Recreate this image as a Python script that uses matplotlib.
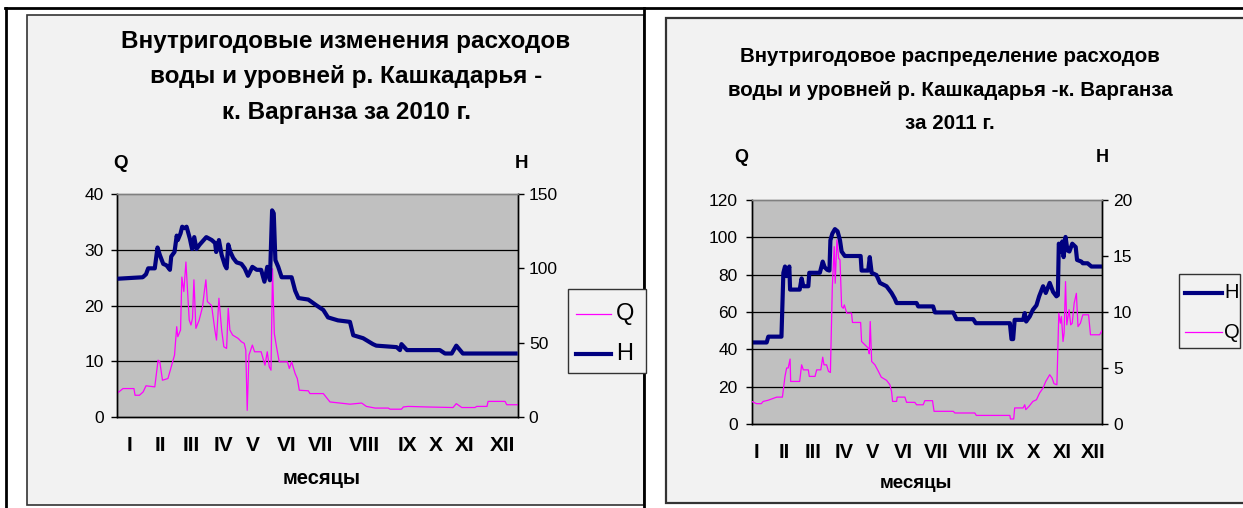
import matplotlib
matplotlib.use('Agg')
import matplotlib.pyplot as plt
from matplotlib.lines import Line2D
from matplotlib.patches import Rectangle

W, H = 1243, 508
FONT = ['Liberation Sans', 'DejaVu Sans']
plt.rcParams['font.family'] = FONT

# ---------------- data ----------------
months = ['I', 'II', 'III', 'IV', 'V', 'VI', 'VII', 'VIII', 'IX', 'X', 'XI', 'XII']
month_pos_2010 = [11.4, 38.7, 67, 97, 123, 154.5, 185.5, 225.5, 264, 290, 316.7, 351]
month_pos_2011 = [4.5, 33.6, 63.9, 96, 126, 157.6, 192, 230.6, 264, 294, 324, 355.6]

# 2010: discharge Q (m3/s) by day of year
q2010_day = [0, 5, 15, 16, 20, 23.4, 26, 34, 37, 38.6, 41, 46, 49, 52, 54, 55, 57.5, 58.7, 60.5, 62.4,
             65.4, 67, 68.4, 69.7, 71.5, 74.5, 77.6, 79, 80.6, 82, 85.8, 88.8, 90.3, 92.5, 95, 97, 99.5,
             101, 102.5, 105, 110, 113, 115.6, 117, 118.3, 119.9, 123, 125, 131, 134.5, 136.6, 138.4,
             140, 141.4, 143, 145, 147.5, 155, 156.7, 158.8, 162, 164, 165.8, 174, 175.5, 187.7, 193.8,
             203, 212, 222.7, 227, 235, 247, 248.5, 259, 260.7, 265, 282, 306, 309, 314, 326, 327.6,
             337, 338, 353.5, 355, 365]
q2010 = [4.3, 5.1, 5.1, 3.9, 3.9, 4.5, 5.6, 5.4, 10.2, 9.9, 6.6, 6.9, 9.0, 11.1, 16.2, 14.4, 15.6, 25.1,
         22.5, 27.8, 17.4, 16.5, 17.7, 24.6, 15.9, 17.4, 19.8, 22.2, 24.6, 20.7, 20.0, 15.6, 13.8, 21.3,
         15.6, 12.6, 12.3, 19.5, 15.6, 14.7, 14.1, 13.5, 13.2, 12.0, 1.2, 11.1, 12.9, 11.7, 11.7, 9.3,
         11.7, 9.0, 8.4, 26.6, 15.0, 12.6, 9.9, 9.9, 8.7, 9.9, 7.8, 6.9, 4.8, 4.7, 4.2, 4.2, 2.7, 2.5,
         2.3, 2.5, 1.9, 1.6, 1.6, 1.4, 1.4, 1.8, 1.9, 1.8, 1.7, 2.4, 1.7, 1.7, 1.9, 1.9, 2.8, 2.8, 2.2, 2.2]

# 2010: water level H (cm)
h2010_day = [0, 23, 26, 28, 34, 36.5, 38.6, 41.7, 44.7, 47.8, 49, 52, 54, 55, 57.5, 59, 61, 63, 66, 68,
             70, 72, 75, 81, 86, 89, 90, 92.5, 95, 98, 99.5, 101, 103, 105.5, 108.6, 113, 116, 119, 123,
             127, 131, 134, 136.6, 139, 141, 142.5, 144, 146.6, 149.7, 158.8, 162, 165, 174, 181.6,
             187.7, 192, 201, 212, 215, 224, 233, 236, 254.6, 257.6, 259, 264, 294, 298.7, 304.8, 309,
             315, 365]
h2010 = [93, 94, 96, 100, 100, 114, 109, 103, 102, 99, 108, 111, 122, 119, 123.5, 128, 127, 128, 120,
         113, 121, 113, 116, 121, 119, 117, 111, 119, 109, 102, 100, 116, 111, 107, 104, 103, 100, 95,
         101, 99, 99, 91, 101, 92, 139, 137, 105.5, 101, 94, 94, 85, 80, 79, 75, 72, 67, 65, 64, 55, 53,
         49, 48, 47, 45, 49, 45, 45, 42.7, 42.7, 48, 42.7, 42.7]

# 2011: discharge Q
q2011_day = [0, 5, 10, 12, 17, 26, 32, 34.7, 36.4, 38, 40, 40.6, 50, 52, 53.8, 59, 60, 66, 67.7, 72,
             74, 75.3, 78, 80, 82, 84, 86, 87, 88.8, 90.6, 92, 93.7, 95.4, 96.5, 99, 104, 105, 113.5,
             114.5, 118, 121.4, 122.5, 123.5, 125, 128.4, 132, 135, 140.5, 144, 145.7, 146.8, 151,
             151.6, 159.6, 161.4, 170, 171.8, 178.7, 180.4, 188.4, 190, 210, 211.7, 232.5, 234, 269,
             269.6, 273, 274, 282.8, 284.5, 285.6, 289, 293, 296.7, 300, 303.6, 306.4, 310.5, 313, 315,
             318, 320, 321.6, 322.7, 324.4, 325.5, 327, 328.3, 330.7, 332.4, 334, 336, 338.3, 340,
             342.5, 345, 351, 353, 362.5, 365]
q2011 = [12.1, 10.9, 10.9, 12.1, 12.7, 14.4, 14.4, 25.5, 30, 30, 34.8, 22.8, 22.8, 31.7, 29, 29, 25.5,
         25.5, 29, 29, 35.8, 31.7, 31.7, 28.2, 27.6, 73.6, 95, 75.4, 98.6, 88.8, 87.9, 62.9, 62, 63.8,
         59.4, 59.4, 54.4, 54.4, 44.2, 42.4, 40.7, 37.6, 54.9, 33.5, 31.7, 28.2, 25.1, 23.4, 21, 17.5,
         12.1, 12.1, 14.4, 14.4, 11.6, 11.6, 10.3, 10.3, 12.5, 12.5, 6.8, 6.8, 5.9, 5.9, 4.6, 4.6, 2.7,
         2.7, 8.6, 8.6, 10.3, 7.7, 9.5, 12.1, 13, 16.6, 19.3, 22.8, 26.4, 24.6, 21.6, 21, 59.4, 54, 57.6,
         44.2, 48.7, 76.3, 53.1, 61.2, 53.1, 54, 64.7, 70, 52.2, 54, 58.5, 58.5, 47.8, 47.8, 50]

# 2011: water level H
h2011_day = [0, 15.6, 17.3, 31, 33, 34.7, 36.4, 39.2, 40, 50, 52, 53.8, 59, 60, 71, 74, 76, 78.8, 81,
             82, 84, 86.7, 89.5, 92, 93.7, 97, 113.5, 114.5, 121.4, 123, 125, 130, 133.6, 140.5, 145.7,
             149, 151, 171.8, 173.5, 189, 191, 210, 213.4, 230.8, 233.5, 269, 270.7, 272.4, 274, 282.8,
             284.5, 286, 289.7, 293, 296.7, 299.5, 303.6, 306.4, 310.5, 314, 317.5, 319, 320, 322.7,
             323.7, 325, 327, 329, 331, 334, 337.6, 339, 343.5, 345, 350, 354, 365]
h2011 = [7.28, 7.28, 7.8, 7.8, 13.5, 14.06, 13.2, 14.06, 12, 12, 13, 12.3, 12.3, 13.5, 13.5, 14.5, 14,
         13.76, 13.7, 16.4, 17, 17.4, 17.2, 16.4, 15.4, 15, 15, 13.7, 13.7, 14.9, 13.5, 13.3, 12.6, 12.3,
         11.7, 11.2, 10.8, 10.8, 10.5, 10.5, 9.96, 9.96, 9.36, 9.36, 9.0, 9.0, 7.58, 7.58, 9.3, 9.3, 9.9,
         9.15, 9.6, 10.2, 10.6, 11.4, 12.3, 11.7, 12.6, 11.8, 11.4, 11.5, 16.1, 15.4, 16.3, 14.9, 16.7,
         15.5, 15.4, 16.1, 15.8, 14.65, 14.5, 14.35, 14.35, 14.06, 14.06]

title_2010 = 'Внутригодовые изменения расходов\nводы и уровней р. Кашкадарья -\nк. Варганза за 2010 г.'
title_2011 = 'Внутригодовое распределение расходов\nводы и уровней р. Кашкадарья -к. Варганза\nза 2011 г.'

# ---------------- styling ----------------
Q_COLOR = '#FF00FF'
H_COLOR = '#000080'
PLOT_BG = '#C0C0C0'
AREA_BG = '#F2F2F2'

fig = plt.figure(figsize=(W / 100, H / 100), dpi=100)
fig.patch.set_facecolor('white')


def fx(x):
    return x / W


def fy(y):
    return 1 - y / H


def rect(x0, y0, x1, y1):
    return [fx(x0), fy(y1), (x1 - x0) / W, (y1 - y0) / H]


def ftext(x, y, s, **kw):
    fig.text(fx(x), fy(y), s, **kw)


# chart areas
fig.patches.append(Rectangle((fx(27), fy(505)), (644 - 27) / W, (505 - 15) / H,
                             transform=fig.transFigure, facecolor=AREA_BG,
                             edgecolor='#333333', lw=1.2, zorder=0))
fig.patches.append(Rectangle((fx(666), fy(503)), (1260 - 666) / W, (503 - 18) / H,
                             transform=fig.transFigure, facecolor=AREA_BG,
                             edgecolor='#333333', lw=1.6, zorder=0))
# table frame lines
for (x0, y0, x1, y1) in [(5, 8, 1243, 8), (6, 8, 6, 508), (644, 8, 644, 508)]:
    fig.add_artist(Line2D([fx(x0), fx(x1)], [fy(y0), fy(y1)], transform=fig.transFigure,
                          color='black', lw=2.0, zorder=1))


def make_chart(box, qd, qv, hd, hv, qmax, qstep, hmax, hstep, mpos, tick_fs, month_fs, month_pad,
               h_on_top):
    ax = fig.add_axes(rect(*box))
    ax2 = ax.twinx()
    ax.set_xlim(0, 365)
    ax.set_ylim(0, qmax)
    ax2.set_ylim(0, hmax)
    ax.set_yticks(range(0, qmax + 1, qstep))
    ax2.set_yticks(range(0, hmax + 1, hstep))
    ax.plot(qd, qv, color=Q_COLOR, lw=0.9, zorder=3)
    ax2.plot(hd, hv, color=H_COLOR, lw=3.0, zorder=3, solid_capstyle='butt')
    if h_on_top:
        bottom, top = ax, ax2
    else:
        bottom, top = ax2, ax
    bottom.set_zorder(1)
    top.set_zorder(2)
    bottom.patch.set_visible(True)
    bottom.set_facecolor(PLOT_BG)
    top.patch.set_visible(False)
    # horizontal gridlines in the lower (background) axes, at the Q ticks
    for t in range(qstep, qmax, qstep):
        bottom.axhline(t * (bottom.get_ylim()[1] / qmax), color='black', lw=0.9, zorder=1)
    for a in (ax, ax2):
        a.spines['top'].set_color('#808080')
        a.spines['top'].set_linewidth(1.0)
        for s in ('left', 'right', 'bottom'):
            a.spines[s].set_color('black')
            a.spines[s].set_linewidth(1.0)
    ax.set_xticks(mpos)
    ax.set_xticklabels(months, fontsize=month_fs, fontweight='bold')
    ax.tick_params(axis='x', length=0, pad=month_pad)
    ax.tick_params(axis='y', direction='out', length=4, width=1, labelsize=tick_fs, pad=6)
    ax2.tick_params(axis='y', direction='out', length=4, width=1, labelsize=tick_fs, pad=4)
    return ax, ax2


# ---------- left chart (2010) ----------
make_chart((117.5, 194, 517.7, 417), q2010_day, q2010, h2010_day, h2010,
           40, 10, 150, 50, month_pos_2010, 12.5, 15, 14, True)
ftext(346, 77, title_2010, ha='center', va='center', fontsize=17.5, fontweight='bold',
      linespacing=1.72)
ftext(121, 164, 'Q', ha='center', va='center', fontsize=13.5, fontweight='bold')
ftext(521, 164, 'H', ha='center', va='center', fontsize=13.5, fontweight='bold')
ftext(322, 478, 'месяцы', ha='center', va='center', fontsize=14.5, fontweight='bold')
# legend 2010
fig.patches.append(Rectangle((fx(568), fy(373)), (646 - 568) / W, (373 - 289) / H,
                             transform=fig.transFigure, facecolor=AREA_BG,
                             edgecolor='#333333', lw=1.0, zorder=2))
fig.add_artist(Line2D([fx(576), fx(611)], [fy(314), fy(314)], transform=fig.transFigure,
                      color=Q_COLOR, lw=0.9, zorder=3))
fig.add_artist(Line2D([fx(576), fx(611)], [fy(354), fy(354)], transform=fig.transFigure,
                      color=H_COLOR, lw=3.0, zorder=3))
ftext(616, 314, 'Q', ha='left', va='center', fontsize=17)
ftext(616, 354, 'H', ha='left', va='center', fontsize=17)

# ---------- right chart (2011) ----------
make_chart((751.7, 200, 1102, 424), q2011_day, q2011, h2011_day, h2011,
           120, 20, 20, 5, month_pos_2011, 12.5, 14.5, 14, False)
ftext(950, 90, title_2011, ha='center', va='center', fontsize=14.8, fontweight='bold',
      linespacing=1.98)
ftext(741, 158, 'Q', ha='center', va='center', fontsize=13, fontweight='bold')
ftext(1102, 158, 'H', ha='center', va='center', fontsize=13, fontweight='bold')
ftext(916, 484, 'месяцы', ha='center', va='center', fontsize=13.5, fontweight='bold')
fig.patches.append(Rectangle((fx(1179), fy(348)), (1240 - 1179) / W, (348 - 274) / H,
                             transform=fig.transFigure, facecolor=AREA_BG,
                             edgecolor='#333333', lw=1.0, zorder=2))
fig.add_artist(Line2D([fx(1185), fx(1222)], [fy(293), fy(293)], transform=fig.transFigure,
                      color=H_COLOR, lw=3.0, zorder=3))
fig.add_artist(Line2D([fx(1185), fx(1222)], [fy(332), fy(332)], transform=fig.transFigure,
                      color=Q_COLOR, lw=0.9, zorder=3))
ftext(1224, 293, 'H', ha='left', va='center', fontsize=14.5)
ftext(1224, 332, 'Q', ha='left', va='center', fontsize=14.5)

fig.savefig('out.png', dpi=100, facecolor='white')
